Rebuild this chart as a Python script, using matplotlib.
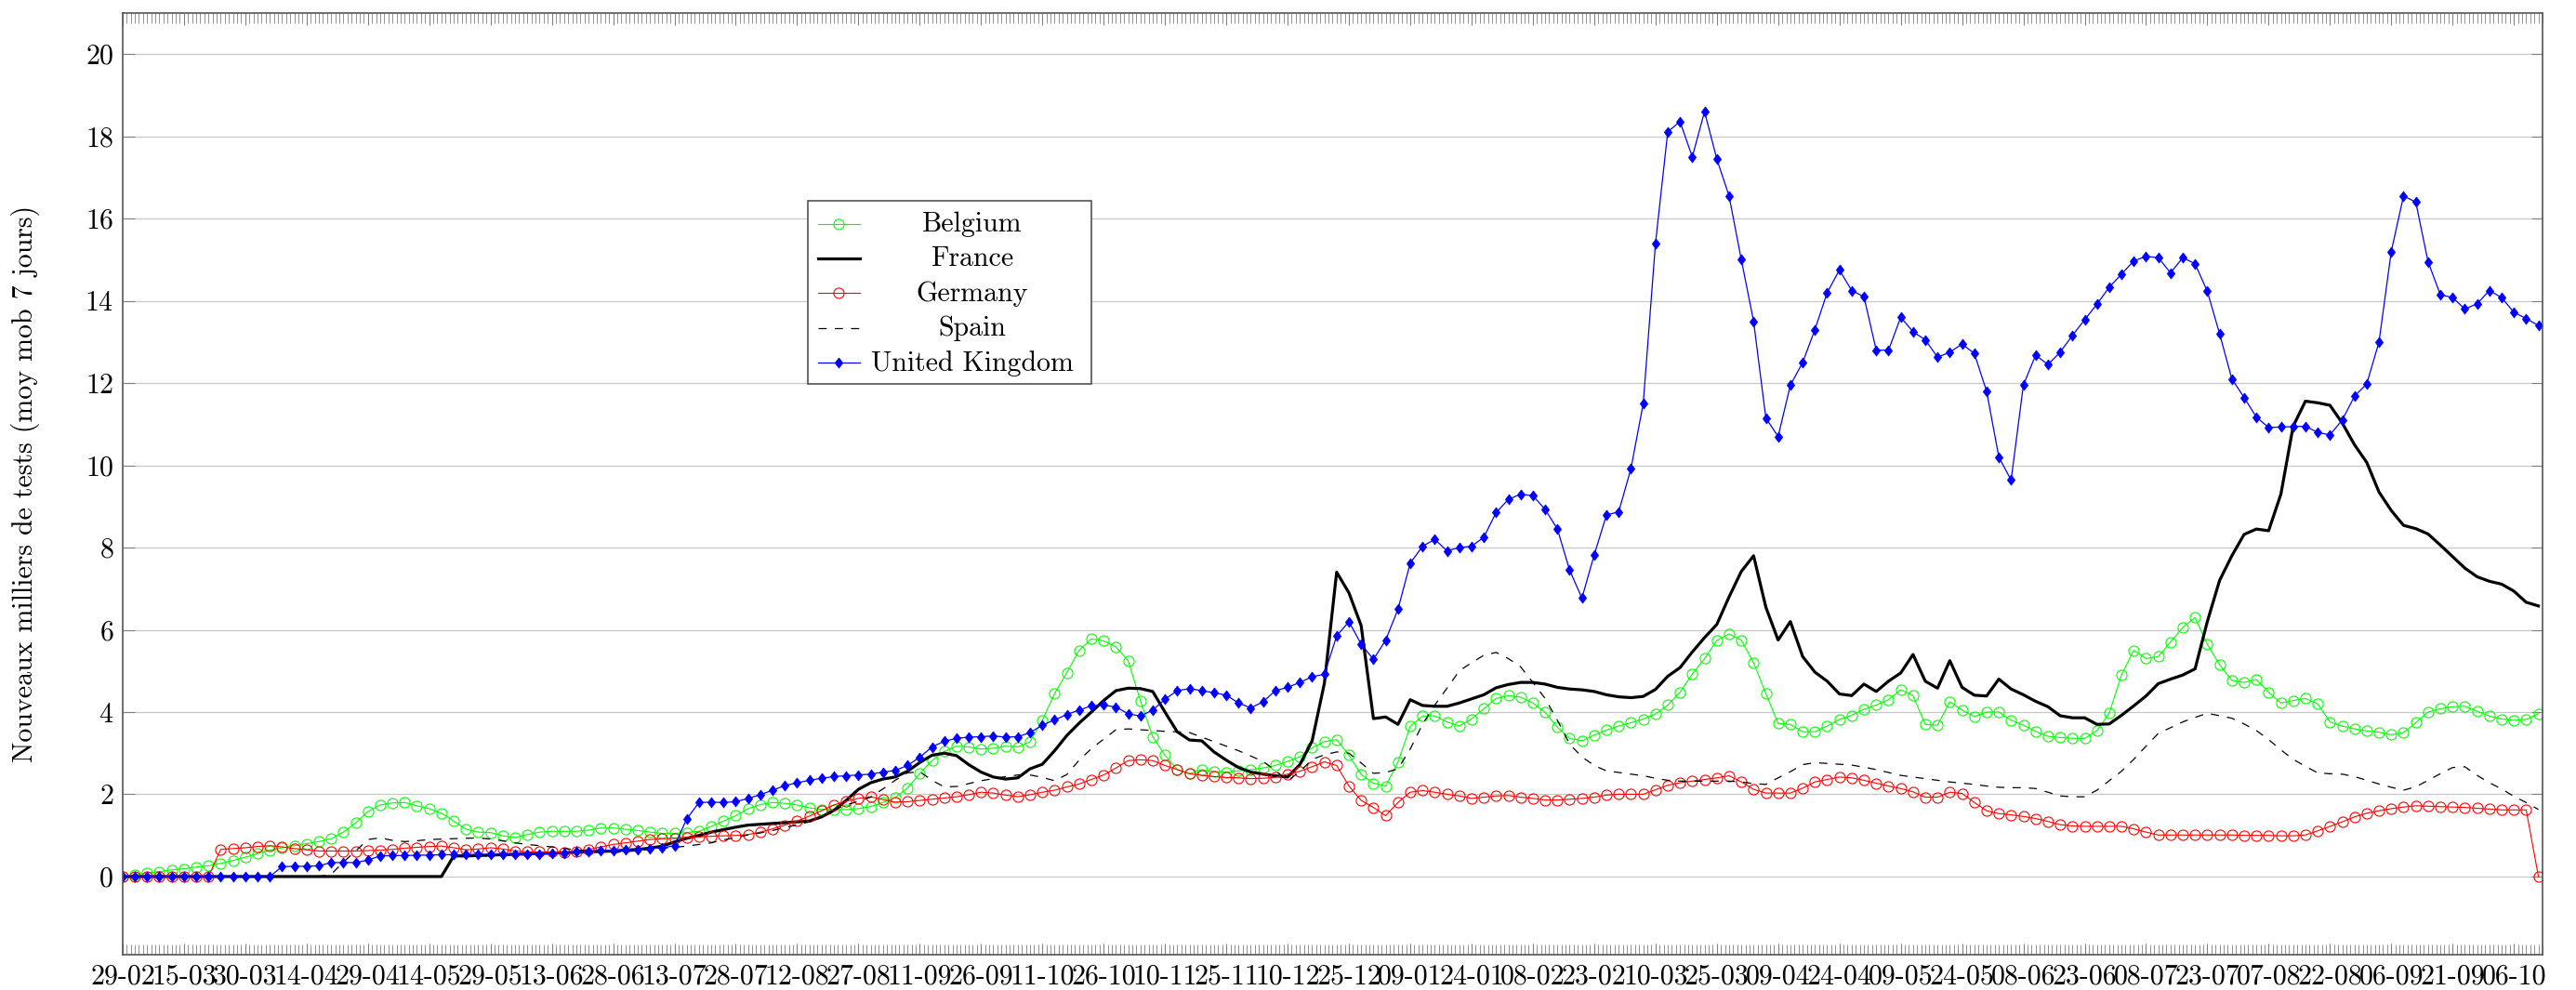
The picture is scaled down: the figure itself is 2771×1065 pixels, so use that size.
import pandas as pd
import matplotlib
matplotlib.use("Agg")
import matplotlib.pyplot as plt
import matplotlib.dates as mdates
from matplotlib.lines import Line2D
from matplotlib.patches import Rectangle

plt.rcParams['font.family'] = 'cmr10'
plt.rcParams['axes.formatter.use_mathtext'] = True
plt.rcParams['mathtext.fontset'] = 'cm'

# New tests, thousands (7-day moving average), one value every 3 days from 29-02-2020
start = "2020-02-29"
step_days = 3

belgium = [
    0.00, 0.04, 0.09, 0.12, 0.16, 0.19, 0.23, 0.26, 0.32, 0.39,
    0.47, 0.56, 0.64, 0.70, 0.75, 0.80, 0.85, 0.92, 1.08, 1.30,
    1.58, 1.74, 1.79, 1.80, 1.72, 1.65, 1.54, 1.35, 1.15, 1.08,
    1.07, 0.99, 0.95, 1.02, 1.08, 1.10, 1.10, 1.10, 1.13, 1.18,
    1.18, 1.15, 1.12, 1.08, 1.05, 1.05, 1.07, 1.10, 1.22, 1.35,
    1.48, 1.65, 1.75, 1.80, 1.78, 1.74, 1.67, 1.63, 1.62, 1.63,
    1.65, 1.70, 1.80, 1.92, 2.15, 2.50, 2.82, 3.04, 3.17, 3.15,
    3.10, 3.12, 3.17, 3.15, 3.28, 3.80, 4.45, 4.96, 5.50, 5.78,
    5.73, 5.58, 5.25, 4.27, 3.40, 2.95, 2.60, 2.50, 2.60, 2.55,
    2.54, 2.57, 2.60, 2.64, 2.70, 2.80, 2.91, 3.13, 3.28, 3.33,
    2.95, 2.48, 2.27, 2.20, 2.78, 3.65, 3.90, 3.91, 3.76, 3.66,
    3.83, 4.08, 4.33, 4.40, 4.36, 4.22, 3.99, 3.63, 3.36, 3.30,
    3.44, 3.56, 3.66, 3.74, 3.83, 3.95, 4.17, 4.48, 4.92, 5.30,
    5.74, 5.90, 5.75, 5.20, 4.45, 3.72, 3.70, 3.52, 3.52, 3.66,
    3.82, 3.92, 4.07, 4.17, 4.30, 4.54, 4.40, 3.70, 3.68, 4.25,
    4.05, 3.89, 4.00, 4.00, 3.80, 3.68, 3.53, 3.41, 3.38, 3.36,
    3.36, 3.55, 3.97, 4.90, 5.50, 5.30, 5.35, 5.70, 6.06, 6.30,
    5.65, 5.15, 4.77, 4.72, 4.79, 4.48, 4.22, 4.28, 4.33, 4.20,
    3.76, 3.66, 3.59, 3.54, 3.51, 3.45, 3.50, 3.74, 4.00, 4.08,
    4.13, 4.14, 4.02, 3.90, 3.83, 3.80, 3.82, 3.96,
]

france = [
    0, 0, 0, 0, 0, 0, 0, 0, 0, 0,
    0, 0, 0, 0, 0, 0, 0, 0, 0, 0,
    0, 0, 0, 0, 0, 0, 0, 0.50, 0.50, 0.51,
    0.52, 0.53, 0.54, 0.55, 0.56, 0.57, 0.58, 0.59, 0.60, 0.61,
    0.62, 0.64, 0.66, 0.69, 0.74, 0.84, 0.93, 1.00, 1.08, 1.14,
    1.20, 1.25, 1.27, 1.29, 1.31, 1.33, 1.35, 1.45, 1.61, 1.85,
    2.12, 2.28, 2.37, 2.42, 2.56, 2.77, 2.95, 3.00, 2.94, 2.72,
    2.54, 2.42, 2.37, 2.40, 2.62, 2.73, 3.06, 3.43, 3.73, 4.00,
    4.28, 4.52, 4.58, 4.57, 4.50, 4.00, 3.52, 3.32, 3.30, 3.03,
    2.83, 2.65, 2.54, 2.49, 2.45, 2.42, 2.72, 3.30, 4.70, 7.40,
    6.90, 6.10, 3.84, 3.88, 3.70, 4.30, 4.16, 4.14, 4.14, 4.22,
    4.32, 4.42, 4.59, 4.67, 4.72, 4.72, 4.68, 4.60, 4.56, 4.54,
    4.50, 4.42, 4.37, 4.35, 4.38, 4.55, 4.87, 5.08, 5.46, 5.81,
    6.13, 6.80, 7.42, 7.80, 6.55, 5.75, 6.20, 5.35, 4.97, 4.75,
    4.44, 4.40, 4.68, 4.50, 4.75, 4.95, 5.40, 4.75, 4.58, 5.25,
    4.60, 4.41, 4.39, 4.80, 4.56, 4.42, 4.26, 4.13, 3.91, 3.86,
    3.86, 3.70, 3.71, 3.92, 4.15, 4.39, 4.69, 4.80, 4.90, 5.05,
    6.20, 7.20, 7.80, 8.32, 8.45, 8.41, 9.30, 10.95, 11.56, 11.52,
    11.46, 11.03, 10.50, 10.07, 9.35, 8.90, 8.54, 8.46, 8.33, 8.06,
    7.78, 7.50, 7.29, 7.18, 7.11, 6.94, 6.67, 6.58,
]

germany = [
    0, 0, 0, 0, 0, 0, 0, 0, 0.66, 0.68,
    0.70, 0.73, 0.75, 0.72, 0.68, 0.65, 0.62, 0.62, 0.62, 0.62,
    0.63, 0.64, 0.66, 0.69, 0.71, 0.73, 0.74, 0.70, 0.65, 0.67,
    0.70, 0.67, 0.62, 0.60, 0.60, 0.60, 0.59, 0.60, 0.66, 0.72,
    0.78, 0.82, 0.86, 0.90, 0.92, 0.93, 0.95, 0.96, 0.98, 0.99,
    1.00, 1.02, 1.08, 1.16, 1.25, 1.35, 1.47, 1.60, 1.74, 1.83,
    1.90, 1.94, 1.87, 1.81, 1.82, 1.85, 1.88, 1.91, 1.94, 1.99,
    2.05, 2.03, 1.98, 1.94, 1.99, 2.05, 2.10, 2.18, 2.25, 2.36,
    2.47, 2.64, 2.82, 2.84, 2.82, 2.70, 2.60, 2.50, 2.46, 2.43,
    2.41, 2.40, 2.38, 2.39, 2.41, 2.49, 2.56, 2.67, 2.79, 2.70,
    2.20, 1.85, 1.68, 1.48, 1.80, 2.05, 2.09, 2.05, 2.00, 1.96,
    1.90, 1.93, 1.96, 1.97, 1.93, 1.90, 1.86, 1.86, 1.88, 1.90,
    1.93, 1.98, 2.00, 2.00, 2.00, 2.11, 2.22, 2.28, 2.32, 2.36,
    2.40, 2.45, 2.30, 2.12, 2.03, 2.03, 2.03, 2.15, 2.30, 2.36,
    2.42, 2.40, 2.34, 2.27, 2.20, 2.14, 2.06, 1.93, 1.93, 2.05,
    2.02, 1.80, 1.60, 1.53, 1.50, 1.46, 1.41, 1.34, 1.26, 1.23,
    1.22, 1.22, 1.22, 1.22, 1.16, 1.08, 1.01, 1.01, 1.01, 1.01,
    1.01, 1.01, 1.01, 1.00, 1.00, 1.00, 0.99, 0.99, 1.01, 1.11,
    1.22, 1.33, 1.45, 1.54, 1.60, 1.65, 1.69, 1.72, 1.71, 1.70,
    1.69, 1.68, 1.66, 1.64, 1.62, 1.62, 1.62, 0.00,
]

spain = [
    0, 0, 0, 0, 0, 0, 0, 0, 0, 0,
    0, 0, 0, 0, 0, 0, 0, 0.05, 0.35, 0.62,
    0.90, 0.94, 0.88, 0.85, 0.87, 0.90, 0.91, 0.92, 0.93, 0.94,
    0.91, 0.87, 0.82, 0.78, 0.75, 0.72, 0.68, 0.65, 0.62, 0.60,
    0.58, 0.60, 0.63, 0.66, 0.69, 0.71, 0.74, 0.78, 0.82, 0.89,
    0.95, 1.01, 1.06, 1.12, 1.19, 1.26, 1.33, 1.46, 1.62, 1.74,
    1.83, 1.93, 2.13, 2.34, 2.52, 2.55, 2.34, 2.18, 2.19, 2.26,
    2.33, 2.38, 2.43, 2.47, 2.47, 2.41, 2.33, 2.48, 2.83, 3.11,
    3.34, 3.57, 3.59, 3.57, 3.55, 3.53, 3.52, 3.50, 3.39, 3.28,
    3.17, 3.06, 2.93, 2.80, 2.58, 2.33, 2.55, 2.85, 2.96, 3.03,
    3.00, 2.76, 2.51, 2.53, 2.62, 3.10, 3.70, 4.17, 4.58, 5.00,
    5.20, 5.38, 5.45, 5.30, 5.10, 4.72, 4.33, 3.80, 3.22, 2.91,
    2.70, 2.57, 2.53, 2.49, 2.45, 2.39, 2.34, 2.32, 2.32, 2.32,
    2.32, 2.32, 2.30, 2.26, 2.24, 2.40, 2.55, 2.72, 2.77, 2.75,
    2.73, 2.71, 2.66, 2.60, 2.53, 2.46, 2.42, 2.38, 2.34, 2.30,
    2.27, 2.24, 2.20, 2.17, 2.16, 2.16, 2.14, 2.05, 1.96, 1.94,
    1.94, 2.10, 2.33, 2.56, 2.85, 3.17, 3.48, 3.62, 3.76, 3.87,
    3.97, 3.91, 3.85, 3.71, 3.55, 3.33, 3.08, 2.85, 2.68, 2.52,
    2.50, 2.49, 2.43, 2.34, 2.25, 2.17, 2.10, 2.18, 2.34, 2.50,
    2.65, 2.67, 2.46, 2.28, 2.13, 1.95, 1.80, 1.63,
]

uk = [
    0, 0, 0, 0, 0, 0, 0, 0, 0, 0,
    0, 0, 0, 0.24, 0.25, 0.25, 0.26, 0.34, 0.34, 0.34,
    0.40, 0.50, 0.51, 0.51, 0.52, 0.52, 0.53, 0.53, 0.53, 0.54,
    0.54, 0.54, 0.55, 0.55, 0.55, 0.56, 0.57, 0.60, 0.62, 0.63,
    0.64, 0.65, 0.66, 0.68, 0.70, 0.75, 1.40, 1.80, 1.81, 1.80,
    1.82, 1.90, 1.99, 2.10, 2.21, 2.28, 2.34, 2.39, 2.43, 2.45,
    2.47, 2.49, 2.54, 2.58, 2.70, 2.90, 3.15, 3.29, 3.36, 3.39,
    3.40, 3.42, 3.39, 3.40, 3.50, 3.68, 3.81, 3.94, 4.05, 4.15,
    4.17, 4.12, 3.96, 3.90, 4.05, 4.31, 4.52, 4.57, 4.52, 4.47,
    4.41, 4.22, 4.10, 4.25, 4.52, 4.60, 4.72, 4.86, 4.92, 5.85,
    6.20, 5.65, 5.28, 5.75, 6.50, 7.62, 8.03, 8.20, 7.92, 8.00,
    8.03, 8.25, 8.85, 9.17, 9.30, 9.26, 8.93, 8.45, 7.45, 6.77,
    7.82, 8.79, 8.87, 9.92, 11.50, 15.40, 18.11, 18.36, 17.50, 18.60,
    17.45, 16.55, 15.00, 13.50, 11.15, 10.70, 11.95, 12.50, 13.30, 14.20,
    14.75, 14.25, 14.10, 12.80, 12.80, 13.60, 13.25, 13.05, 12.63, 12.75,
    12.95, 12.72, 11.80, 10.20, 9.64, 11.95, 12.68, 12.45, 12.75, 13.16,
    13.54, 13.92, 14.33, 14.65, 14.97, 15.08, 15.05, 14.68, 15.05, 14.90,
    14.23, 13.20, 12.10, 11.65, 11.17, 10.92, 10.93, 10.94, 10.95, 10.80,
    10.74, 11.10, 11.68, 11.98, 13.00, 15.20, 16.55, 16.40, 14.95, 14.15,
    14.08, 13.80, 13.93, 14.25, 14.08, 13.72, 13.57, 13.40,
]

tick_labels = [
    "29-02", "15-03", "30-03", "14-04", "29-04", "14-05", "29-05", "13-06",
    "28-06", "13-07", "28-07", "12-08", "27-08", "11-09", "26-09", "11-10",
    "26-10", "10-11", "25-11", "10-12", "25-12", "09-01", "24-01", "08-02",
    "23-02", "10-03", "25-03", "09-04", "24-04", "09-05", "24-05", "08-06",
    "23-06", "08-07", "23-07", "07-08", "22-08", "06-09", "21-09", "06-10",
]

dates = pd.date_range(start, periods=len(belgium), freq=f"{step_days}D")
tick_dates = pd.date_range(start, periods=len(tick_labels), freq="15D")

diamond = [(0, 1), (0.75, 0), (0, -1), (-0.75, 0), (0, 1)]
styles = {
    "Belgium": dict(color="#00ff00", lw=0.8, marker="o", ms=8, mfc="none", mew=0.8),
    "France": dict(color="black", lw=2.3),
    "Germany": dict(color="#ff0000", lw=0.8, marker="o", ms=8, mfc="none", mew=0.8),
    "Spain": dict(color="black", lw=0.9, ls=(0, (7, 7))),
    "United Kingdom": dict(color="#0000ff", lw=0.9, marker=diamond, ms=8, mec="#0000ff", mew=0.5),
}
series = {"Belgium": belgium, "France": france, "Germany": germany,
          "Spain": spain, "United Kingdom": uk}

fig = plt.figure(figsize=(27.71, 10.65), dpi=100)
ax = fig.add_axes([0.0476, 0.0357, 0.9394, 0.9512])

for name, vals in series.items():
    ax.plot(dates, vals, **styles[name])

ax.set_xlim(pd.Timestamp(start), pd.Timestamp(start) + pd.Timedelta(days=592))
ax.set_ylim(-1.9, 21.0)
ax.set_yticks(range(0, 21, 2))
ax.set_xticks(tick_dates)
ax.set_xticklabels(tick_labels)
ax.xaxis.set_minor_locator(mdates.DayLocator())

ax.tick_params(axis="both", which="both", direction="in", top=True, right=True,
               colors="#808080", labelcolor="black", labelsize=21.5, pad=7)
ax.tick_params(which="major", length=9, width=0.8)
ax.tick_params(axis="x", which="minor", length=8, width=0.6)
ax.grid(axis="y", color="#c8c8c8", lw=0.9)
ax.set_axisbelow(True)
for sp in ax.spines.values():
    sp.set_color("#555555")
    sp.set_linewidth(1.2)

ax.set_ylabel("Nouveaux milliers de tests (moy mob 7 jours)", fontsize=21.5)
ax.yaxis.set_label_coords(-0.034, 0.5)

# legend box, entries centred like the original
ax.add_patch(Rectangle((0.2831, 0.6061), 0.1172, 0.1945, transform=ax.transAxes,
                       facecolor="white", edgecolor="#444444", lw=1.1, zorder=5))
handle_y = [0.7762, 0.7397, 0.7029, 0.6657, 0.6288]
text_y = [0.768, 0.731, 0.694, 0.657, 0.620]
for name, hy, ty in zip(series, handle_y, text_y):
    h = Line2D([0.2874, 0.2960, 0.3047], [hy, hy, hy], transform=ax.transAxes,
               markevery=[1], zorder=6, **styles[name])
    ax.add_artist(h)
    ax.text(0.3511, ty, name, transform=ax.transAxes, ha="center", va="baseline",
            fontsize=21.5, zorder=6)

fig.savefig("out.png", dpi=100)
